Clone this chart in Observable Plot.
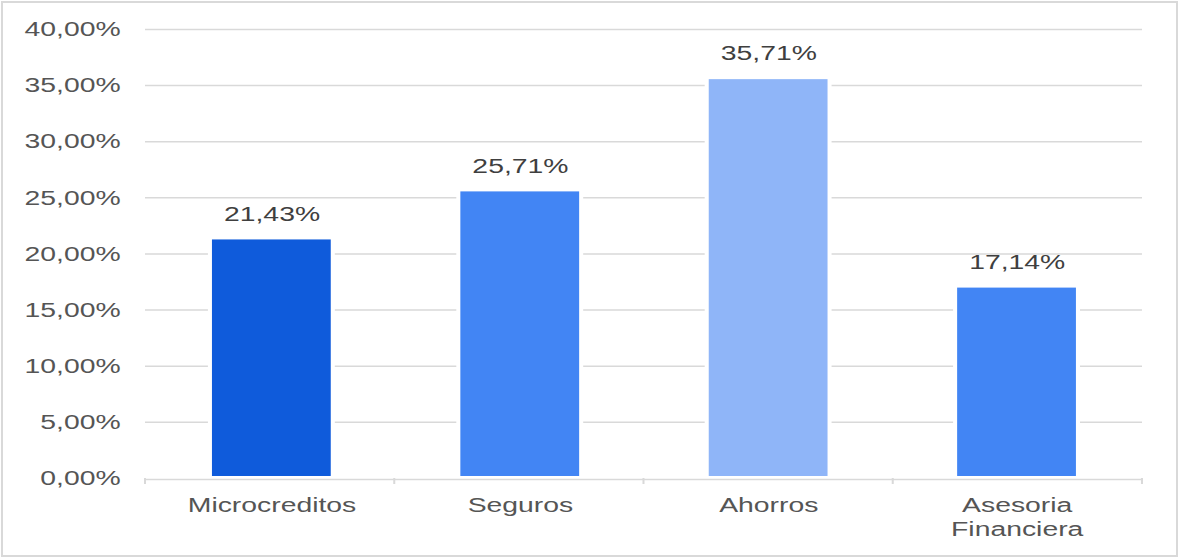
<!DOCTYPE html>
<html>
<head>
<meta charset="utf-8">
<script src="https://cdn.jsdelivr.net/npm/d3@7"></script>
<script src="https://cdn.jsdelivr.net/npm/@observablehq/plot@0.6"></script>
<style>
  html, body { margin: 0; padding: 0; background: #fff; }
  #wrap { position: relative; width: 1180px; height: 557px; overflow: hidden; background: #fff; }
  #chart { position: absolute; left: 0; top: 0; transform-origin: 0 0; }
  #border { position: absolute; left: 1px; top: 1px; width: 1173px; height: 552px; border: 2px solid #d9d9d9; pointer-events: none; }
</style>
</head>
<body>
<div id="wrap"><div id="chart"></div><div id="border"></div></div>
<script>
const categories = ["Microcreditos", "Seguros", "Ahorros", "Asesoria\nFinanciera"];
const values = [21.43, 25.71, 35.71, 17.14];
const barColors = ["#0f5bdb", "#4285f4", "#8fb5f8", "#4285f4"];
const yTicks = [0, 5, 10, 15, 20, 25, 30, 35, 40];

const data = categories.map((c, i) => ({cat: c, value: values[i], color: barColors[i]}));
const fmt = v => v.toFixed(2).replace(".", ",") + "%";

const S = 1.35; // horizontal stretch of the reference
const W = 1180 / S;

const boundaryTicks = (index, scales, vals, dim) => {
  const n = categories.length;
  const x0 = dim.marginLeft, x1 = dim.width - dim.marginRight;
  const step = (x1 - x0) / n;
  const y0 = scales.y(0);
  const g = d3.create("svg:g");
  for (let i = 0; i <= n; i++) {
    const xx = x0 + i * step;
    g.append("line").attr("x1", xx).attr("x2", xx).attr("y1", y0).attr("y2", y0 + 6)
      .attr("stroke", "#d9d9d9").attr("stroke-width", 1.5);
  }
  return g.node();
};

const plot = Plot.plot({
  width: W,
  height: 557,
  marginLeft: 145 / S,
  marginRight: 38 / S,
  marginTop: 29,
  marginBottom: 79,
  style: {fontFamily: "'Liberation Sans', Arial, sans-serif", fontSize: "21px", background: "transparent"},
  x: {domain: categories, paddingInner: 0.52, paddingOuter: 0.26, label: null},
  y: {domain: [0, 40], label: null},
  color: {type: "identity"},
  marks: [
    Plot.ruleY(yTicks.filter(d => d > 0), {stroke: "#d9d9d9", strokeWidth: 1.5}),
    Plot.ruleY([0], {stroke: "#d9d9d9", strokeWidth: 1.5, dy: 1}),
    boundaryTicks,
    Plot.barY(data, {x: "cat", y: "value", fill: "white", insetLeft: -3, insetRight: -3}),
    Plot.barY(data, {x: "cat", y: "value", fill: "color", insetTop: 2, insetBottom: 2}),
    Plot.text(data, {x: "cat", y: "value", text: d => fmt(d.value), dy: -24, fill: "#3f3f3f", fontSize: 21}),
    Plot.axisY({ticks: yTicks, tickFormat: fmt, tickSize: 0, tickPadding: 18.5, color: "#555555", fontSize: 21}),
    Plot.axisX({tickSize: 0, tickPadding: 16, color: "#555555", fontSize: 21, lineHeight: 1.15})
  ]
});
const holder = document.getElementById("chart");
holder.style.transform = `scaleX(${S})`;
holder.appendChild(plot);
</script>
</body>
</html>
